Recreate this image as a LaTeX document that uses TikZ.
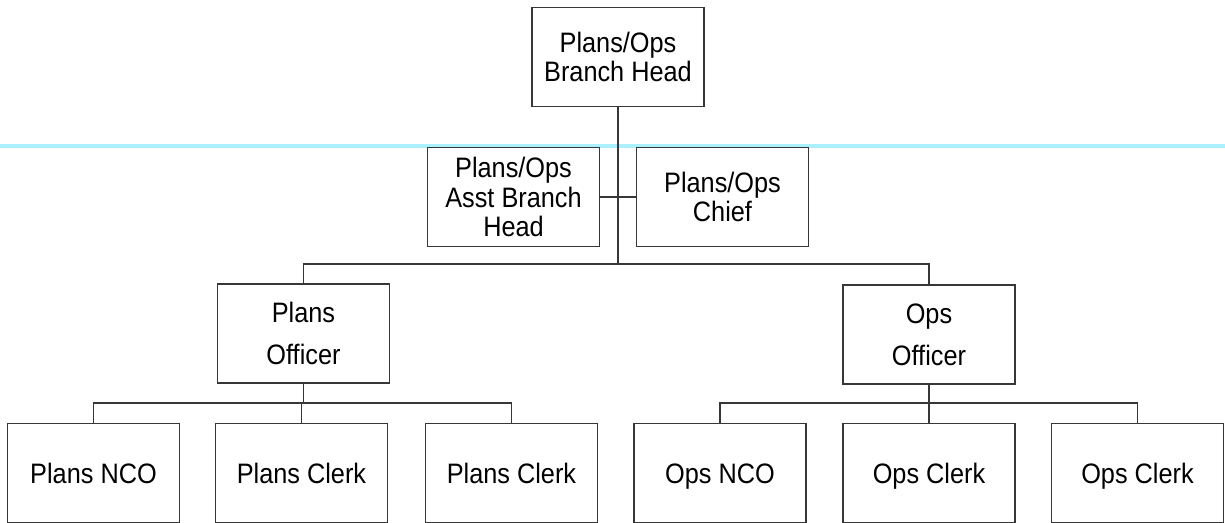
\documentclass[tikz,border=0pt]{standalone}
\usepackage{fontspec}
\setmainfont{Liberation Sans}[FakeStretch=0.9]
\usepackage{xcolor}
\usetikzlibrary{positioning,calc}
\definecolor{orgdraw}{RGB}{55,55,55}
\definecolor{scancyan}{RGB}{170,240,255}
\tikzset{
  orgline/.style={line width=1.1pt, draw=orgdraw},
  orgnode/.style={draw=orgdraw, line width=1.1pt, fill=white, align=center, inner sep=0pt},
}

\begin{document}
\begin{tikzpicture}[
  x=0.02cm, y=-0.02cm,
  font=\fontsize{16}{16.8}\selectfont,
  bx/.style={orgnode, minimum width=3.44cm, minimum height=1.98cm},
  offbx/.style={bx, font=\fontsize{16}{24}\selectfont},
  leafbx/.style={bx, text height=12.4pt, text depth=0pt},
]
  \useasboundingbox (0,0) rectangle (1225,523);
  % faint scan stripe behind the boxes
  \coordinate (sl) at (0,146);
  \coordinate (sr) at (1225,146);
  \draw[scancyan, line width=2.4pt] (sl) -- (sr);

  % top levels
  \node[bx] (head) at (618,57) {Plans/Ops\\Branch Head};
  \node[bx] (asst) at (513.5,197) {Plans/Ops\\Asst Branch\\Head};
  \node[bx] (chief) at (722.5,197) {Plans/Ops\\Chief};
  \node[offbx] (plans) at (303.5,333.5) {Plans\\Officer};
  \node[offbx] (ops) at (929,334.5) {Ops\\Officer};

  % bottom row
  \node[leafbx] (pnco) at (93.5,473) {Plans NCO};
  \node[leafbx] (pclA) at (301.5,473) {Plans Clerk};
  \node[leafbx] (pclB) at (511.5,473) {Plans Clerk};
  \node[leafbx] (onco) at (720,473) {Ops NCO};
  \node[leafbx] (oclA) at (929,473) {Ops Clerk};
  \node[leafbx] (oclB) at (1137.5,473) {Ops Clerk};

  % bus levels
  \coordinate (topbus) at (0,264);
  \coordinate (lowbus) at (0,403);

  \draw[orgline] (head.south) -- (head.south |- topbus);
  \draw[orgline] (asst.east) -- (chief.west);
  \draw[orgline] (plans.north) -- (plans.north |- topbus) -| (ops.north);
  \draw[orgline] (plans.south) -- (plans.south |- lowbus);
  \draw[orgline] (ops.south) -- (ops.south |- lowbus);
  \draw[orgline] (pnco.north) -- (pnco.north |- lowbus) -| (pclB.north);
  \draw[orgline] (onco.north) -- (onco.north |- lowbus) -| (oclB.north);
  \foreach \a in {pclA,oclA}
    \draw[orgline] (\a.north) -- (\a.north |- lowbus);
\end{tikzpicture}
\end{document}
